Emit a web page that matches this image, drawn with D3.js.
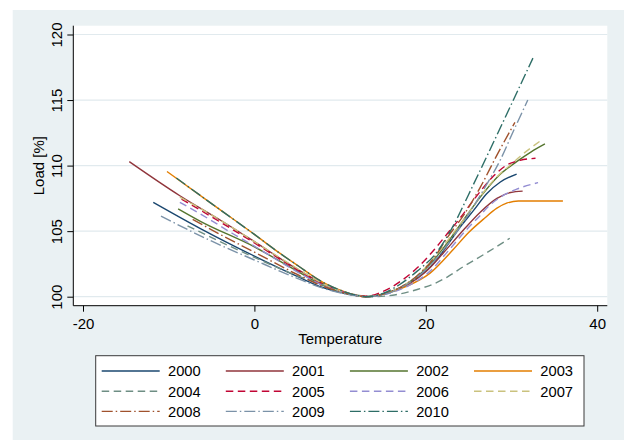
<!DOCTYPE html>
<html>
<head>
<meta charset="utf-8">
<script src="https://cdn.jsdelivr.net/npm/d3@7"></script>
<style>
  body { margin: 0; background: #fff; }
  svg { display: block; }
  text { font-family: "Liberation Sans", Arial, Helvetica, sans-serif; fill: #000; }
</style>
</head>
<body>
<svg id="chart" width="624" height="440"></svg>
<script>
// Load profile (% of minimum) against temperature, one smoothed curve per year.
const years = ["2000", "2001", "2002", "2003", "2004", "2005", "2006", "2007", "2008", "2009", "2010"];

// [temperature, load %] points for each year
const s2000 = [[-11.8,107.2],[-6.3,105.2],[0,103.1],[5,101.55],[8,100.7],[10,100.33],[12,100.07],[13,100],[15,100.2],[18,101.0],[21,102.6],[24,105.3],[25.6,106.6],[27.1,107.85],[28.7,108.75],[30.6,109.35]];
const s2001 = [[-14.6,110.3],[-8.7,107.7],[-4,105.85],[0,104.2],[5,102.1],[8,101.0],[10,100.45],[12,100.08],[13,100],[15,100.2],[18,100.95],[20,101.9],[22,103.3],[24,104.8],[26.35,106.45],[28.3,107.5],[29.9,107.95],[31.3,108.05]];
const s2002 = [[-8.9,106.7],[-6.3,105.75],[0,103.8],[5,101.95],[8,100.87],[10,100.4],[12,100.08],[13,100],[15,100.2],[17,100.7],[19,101.55],[21,102.85],[22.5,104.1],[24.4,105.85],[26.35,107.6],[28.3,109.1],[30.6,110.3],[32.3,111.05],[33.9,111.65]];
const s2003 = [[-10.2,109.55],[-5,107.1],[0,104.75],[3,103.3],[5,102.4],[8,101.1],[10,100.5],[12,100.1],[13,100],[15.5,100.26],[17.8,100.8],[20.5,101.8],[23.2,103.6],[25,104.9],[26.7,105.9],[28.3,106.75],[29.5,107.15],[30.8,107.3],[36,107.3]];
const s2004 = [[-7.8,105.4],[-4,104.2],[0,103.0],[5,101.6],[8,100.9],[10,100.45],[12,100.12],[14,100],[16.5,100.15],[19,100.55],[21,101.0],[22.5,101.5],[24.4,102.3],[27.1,103.35],[29.8,104.46]];
const s2005 = [[-8.5,107.45],[-4,105.7],[0,104.1],[5,102.05],[8,100.95],[10,100.45],[12,100.1],[13,100.03],[15,100.4],[17,101.15],[19,102.2],[21,103.6],[22.5,104.8],[24,106.0],[25.6,107.4],[27.9,109.2],[29.5,110.06],[31,110.4],[32.8,110.56]];
const s2006 = [[-8.7,107.2],[-5.5,106.0],[-2.5,104.8],[0,103.85],[5,101.9],[8,100.87],[10,100.4],[12,100.08],[13,100],[15,100.15],[18,100.85],[20.5,101.95],[22.5,103.4],[24.8,105.15],[26.35,106.2],[27.1,106.75],[29.1,107.75],[30.6,108.2],[33.1,108.7]];
const s2007 = [[-8.7,107.6],[-4,105.85],[0,104.2],[5,102.15],[8,101.0],[10,100.45],[12,100.08],[13,100],[15,100.2],[17,100.7],[19,101.6],[21,103.0],[22.8,104.5],[24.8,106.2],[26.9,108.1],[28.7,109.4],[29.9,110.06],[31,110.7],[33.4,111.9]];
const s2008 = [[-7.2,105.9],[-4,104.75],[0,103.4],[5,101.7],[8,100.8],[10,100.37],[12,100.07],[13,100],[15,100.2],[17,100.7],[19,101.6],[21,103.0],[22.5,104.5],[24.4,106.2],[26.4,108.4],[28.3,110.8],[30.4,113.3]];
const s2009 = [[-10.9,106.15],[-5.2,104.3],[0,102.8],[5,101.4],[8,100.65],[10,100.3],[12,100.06],[13,100],[15,100.15],[17,100.65],[19,101.5],[21,102.75],[23,104.4],[25,106.3],[27,108.45],[28.7,110.44],[30.2,112.6],[31.9,115.0]];
const s2010 = [[-9.1,109.05],[-5,107.1],[0,104.75],[3,103.3],[5,102.4],[8,101.1],[10,100.5],[12,100.1],[13,100],[15,100.25],[17,100.95],[19,101.95],[21.3,103.4],[23.2,105.4],[25,107.8],[27.3,110.95],[30,114.7],[32.5,118.2]];

const xTicks = [-20, 0, 20, 40];
const yTicks = [100, 105, 110, 115, 120];

const seriesData = [s2000, s2001, s2002, s2003, s2004, s2005, s2006, s2007, s2008, s2009, s2010];
const colors = ["#1a476f", "#90353b", "#55752f", "#e37e00", "#6e8e84", "#c10534",
                "#938dd2", "#cac27e", "#a0522d", "#7b92a8", "#2d6d66"];
const solid = null, dash = "7.5,4.5", dashDot = "11,3,1.5,3";
const patterns = [solid, solid, solid, solid, dash, dash, dash, dash, dashDot, dashDot, dashDot];

const svg = d3.select("#chart");

// outer graph region
svg.append("rect").attr("x", 12.7).attr("y", 10).attr("width", 624 - 12.7).attr("height", 430)
  .attr("fill", "#eaf1f3");

const plot = { left: 73.3, right: 607.3, top: 25.7, bottom: 305.7 };
svg.append("rect").attr("x", plot.left).attr("y", plot.top)
  .attr("width", plot.right - plot.left).attr("height", plot.bottom - plot.top)
  .attr("fill", "#fff");

const x = d3.scaleLinear().domain([-20, 40]).range([83.0, 597.2]);
const y = d3.scaleLinear().domain([100, 120]).range([296.7, 34.5]);

// plain hyphen-minus for negative tick values
const plainNum = d => String(d);

// horizontal grid
svg.append("g").selectAll("line").data(yTicks).join("line")
  .attr("x1", plot.left).attr("x2", plot.right)
  .attr("y1", d => y(d)).attr("y2", d => y(d))
  .attr("stroke", "#e1eaee").attr("stroke-width", 1.2);

// curves
const line = d3.line().x(d => x(d[0])).y(d => y(d[1])).curve(d3.curveMonotoneX);
const curves = svg.append("g");
seriesData.forEach((s, i) => {
  curves.append("path").datum(s).attr("d", line)
    .attr("fill", "none").attr("stroke", colors[i]).attr("stroke-width", 1.4)
    .attr("stroke-linejoin", "round")
    .attr("stroke-dasharray", patterns[i]);
});

// axes
const yAxis = svg.append("g").attr("transform", `translate(${plot.left},0)`)
  .call(d3.axisLeft(y).tickValues(yTicks).tickSize(6).tickFormat(plainNum));
yAxis.select(".domain").remove();
yAxis.selectAll(".tick line").attr("stroke", "#000");
yAxis.selectAll(".tick text")
  .attr("x", 0).attr("dy", 0).attr("text-anchor", "middle")
  .attr("transform", "translate(-11.6,0) rotate(-90)")
  .style("font-size", "15px").style("font-family", null);

const xAxis = svg.append("g").attr("transform", `translate(0,${plot.bottom})`)
  .call(d3.axisBottom(x).tickValues(xTicks).tickSize(6).tickFormat(plainNum));
xAxis.select(".domain").remove();
xAxis.selectAll(".tick line").attr("stroke", "#000");
xAxis.selectAll(".tick text").attr("y", 23.3).attr("dy", 0)
  .style("font-size", "15px").style("font-family", null);

svg.append("line").attr("x1", plot.left).attr("x2", plot.left)
  .attr("y1", plot.top).attr("y2", plot.bottom).attr("stroke", "#000");
svg.append("line").attr("x1", plot.left).attr("x2", plot.right)
  .attr("y1", plot.bottom).attr("y2", plot.bottom).attr("stroke", "#000");

// axis titles
svg.append("text").attr("text-anchor", "middle")
  .attr("transform", `translate(44,${(plot.top + plot.bottom) / 2}) rotate(-90)`)
  .style("font-size", "15px").text("Load [%]");
svg.append("text").attr("text-anchor", "middle")
  .attr("x", (plot.left + plot.right) / 2).attr("y", 344)
  .style("font-size", "15px").text("Temperature");

// legend
const lg = svg.append("g");
lg.append("rect").attr("x", 95.7).attr("y", 355.7).attr("width", 488.3).attr("height", 70.3)
  .attr("fill", "#fff").attr("stroke", "#3a3a3a").attr("stroke-width", 1);
years.forEach((yr, i) => {
  const col = i % 4, row = Math.floor(i / 4);
  const x0 = 101.7 + col * 124.1;
  const ry = 371 + row * 20.2;
  lg.append("line").attr("x1", x0).attr("x2", x0 + 58).attr("y1", ry).attr("y2", ry)
    .attr("stroke", colors[i]).attr("stroke-width", 1.4).attr("stroke-dasharray", patterns[i]);
  lg.append("text").attr("x", x0 + 66.3).attr("y", ry + 5.3)
    .style("font-size", "14.7px").text(yr);
});
</script>
</body>
</html>
